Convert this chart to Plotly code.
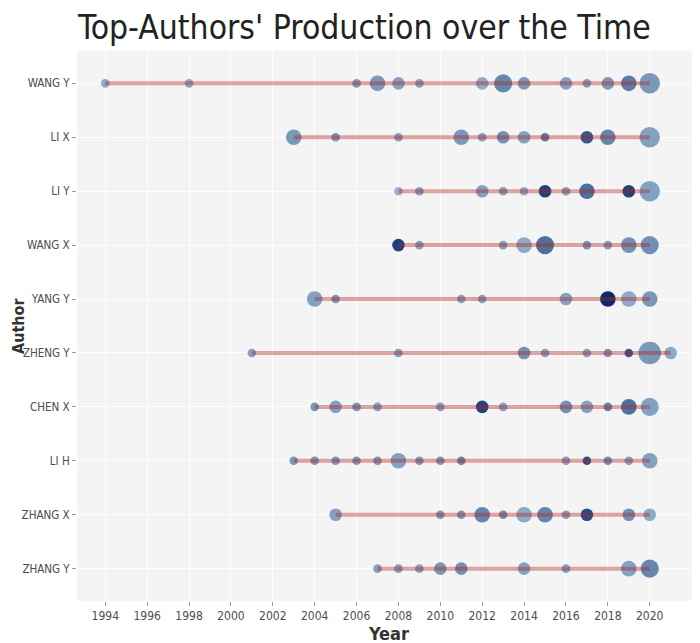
import math
import plotly.graph_objects as go

# ---------------- data ----------------
authors = ["WANG Y", "LI X", "LI Y", "WANG X", "YANG Y",
           "ZHENG Y", "CHEN X", "LI H", "ZHANG X", "ZHANG Y"]

years = [
    [1994, 1998, 2006, 2007, 2008, 2009, 2012, 2013, 2014, 2016, 2017, 2018, 2019, 2020],
    [2003, 2005, 2008, 2011, 2012, 2013, 2014, 2015, 2017, 2018, 2020],
    [2008, 2009, 2012, 2013, 2014, 2015, 2016, 2017, 2019, 2020],
    [2008, 2009, 2013, 2014, 2015, 2017, 2018, 2019, 2020],
    [2004, 2005, 2011, 2012, 2016, 2018, 2019, 2020],
    [2001, 2008, 2014, 2015, 2017, 2018, 2019, 2020, 2021],
    [2004, 2005, 2006, 2007, 2010, 2012, 2013, 2016, 2017, 2018, 2019, 2020],
    [2003, 2004, 2005, 2006, 2007, 2008, 2009, 2010, 2011, 2016, 2017, 2018, 2019, 2020],
    [2005, 2010, 2011, 2012, 2013, 2014, 2015, 2016, 2017, 2019, 2020],
    [2007, 2008, 2009, 2010, 2011, 2014, 2016, 2019, 2020],
]

freq = [
    [1, 1, 1, 3, 2, 1, 2, 4, 2, 2, 1, 2, 3, 5],
    [3, 1, 1, 3, 1, 2, 2, 1, 2, 3, 5],
    [1, 1, 2, 1, 1, 2, 1, 3, 2, 5],
    [2, 1, 1, 3, 4, 1, 1, 3, 4],
    [3, 1, 1, 1, 2, 3, 3, 3],
    [1, 1, 2, 1, 1, 1, 1, 6, 2],
    [1, 2, 1, 1, 1, 2, 1, 2, 2, 1, 3, 4],
    [1, 1, 1, 1, 1, 3, 1, 1, 1, 1, 1, 1, 1, 3],
    [2, 1, 1, 3, 1, 3, 3, 1, 2, 2, 2],
    [1, 1, 1, 2, 2, 2, 1, 3, 4],
]

tc_per_year = [
    [4.0, 4.0, 5.0, 5.0, 4.5, 4.5, 4.0, 6.0, 5.0, 4.5, 4.5, 5.0, 6.5, 5.0],
    [5.0, 5.0, 4.5, 5.0, 4.5, 5.5, 4.5, 6.5, 8.0, 6.0, 4.5],
    [3.5, 4.5, 4.5, 4.5, 4.0, 9.0, 4.5, 7.0, 9.0, 4.5],
    [9.0, 4.5, 4.5, 4.0, 7.0, 5.0, 4.5, 5.5, 5.5],
    [4.5, 5.0, 4.5, 4.5, 4.5, 10.0, 4.0, 5.0],
    [4.5, 4.5, 5.5, 4.5, 4.5, 5.0, 8.0, 5.0, 4.0],
    [5.0, 4.5, 5.0, 4.5, 4.5, 9.0, 4.5, 5.5, 4.5, 6.0, 7.0, 4.5],
    [5.0, 5.0, 5.0, 5.0, 5.0, 4.5, 5.0, 5.0, 6.0, 4.5, 8.5, 5.5, 4.5, 4.5],
    [4.5, 5.0, 5.0, 6.0, 5.5, 4.0, 6.0, 4.5, 8.5, 5.5, 4.0],
    [4.5, 4.5, 4.5, 5.0, 5.5, 4.5, 4.5, 4.5, 6.0],
]

year_ticks = list(range(1994, 2021, 2))

# ---------------- styling helpers ----------------
def dot_size(f):
    return 8.6 + 9.6 * (math.sqrt(f) - 1)

point_scale = [[0.0, "rgb(150,180,206)"], [0.4, "rgb(100,133,172)"],
               [0.75, "rgb(45,80,135)"], [1.0, "rgb(10,42,105)"]]

fig = go.Figure()

# points
for a, ys, fs, ts in zip(authors, years, freq, tc_per_year):
    fig.add_trace(go.Scatter(
        x=ys, y=[a] * len(ys), mode="markers",
        marker=dict(size=[dot_size(f) for f in fs], color=ts,
                    colorscale=point_scale, cmin=3.5, cmax=10,
                    line=dict(width=0), opacity=1),
        showlegend=False, hoverinfo="x+y"))

# lines on top
for a, ys in zip(authors, years):
    fig.add_trace(go.Scatter(
        x=[min(ys), max(ys)], y=[a, a], mode="lines",
        line=dict(color="rgba(178,34,34,0.4)", width=4),
        showlegend=False, hoverinfo="skip"))

tick_font = dict(family="DejaVu Sans Condensed, DejaVu Sans", size=11.5, color="#4D4D4D")
xtick_font = dict(family="DejaVu Sans Condensed, DejaVu Sans", size=12, color="#4D4D4D")

fig.update_layout(
    width=700, height=643,
    margin=dict(l=69, r=8, t=43, b=50),
    paper_bgcolor="white",
    plot_bgcolor="#F4F4F4",
    title=dict(text="Top-Authors' Production over the Time",
               font=dict(family="DejaVu Sans Condensed, DejaVu Sans", size=33.4, color="#222222"),
               x=70 / 700, xanchor="left", xref="container",
               y=1 - 19 / 643, yanchor="middle", yref="container"),
    xaxis=dict(range=[1992.65, 2022.4], tickmode="array", tickvals=year_ticks,
               showgrid=True, gridcolor="white", gridwidth=1, zeroline=False,
               ticks="outside", ticklen=4, tickcolor="#999999", tickwidth=1,
               tickfont=xtick_font, showline=False, automargin=False),
    yaxis=dict(type="category", categoryorder="array",
               categoryarray=authors[::-1], range=[-0.6, 9.6],
               showgrid=True, gridcolor="white", gridwidth=1, zeroline=False,
               ticks="outside", ticklen=4, tickcolor="#999999", tickwidth=1,
               tickfont=tick_font, showline=False, automargin=False),
    annotations=[
        dict(text="<b>Year</b>", xref="paper", yref="paper", x=0.5, y=0.0,
             yshift=-32, xanchor="center", yanchor="middle", showarrow=False,
             font=dict(family="DejaVu Sans Condensed, DejaVu Sans", size=18, color="#333333")),
        dict(text="<b>Author</b>", xref="paper", yref="paper", x=0, y=0.5,
             xshift=-59, xanchor="center", yanchor="middle", showarrow=False,
             textangle=-90,
             font=dict(family="DejaVu Sans Condensed, DejaVu Sans", size=16, color="#333333")),
    ],
)

fig.write_html("out.html")
